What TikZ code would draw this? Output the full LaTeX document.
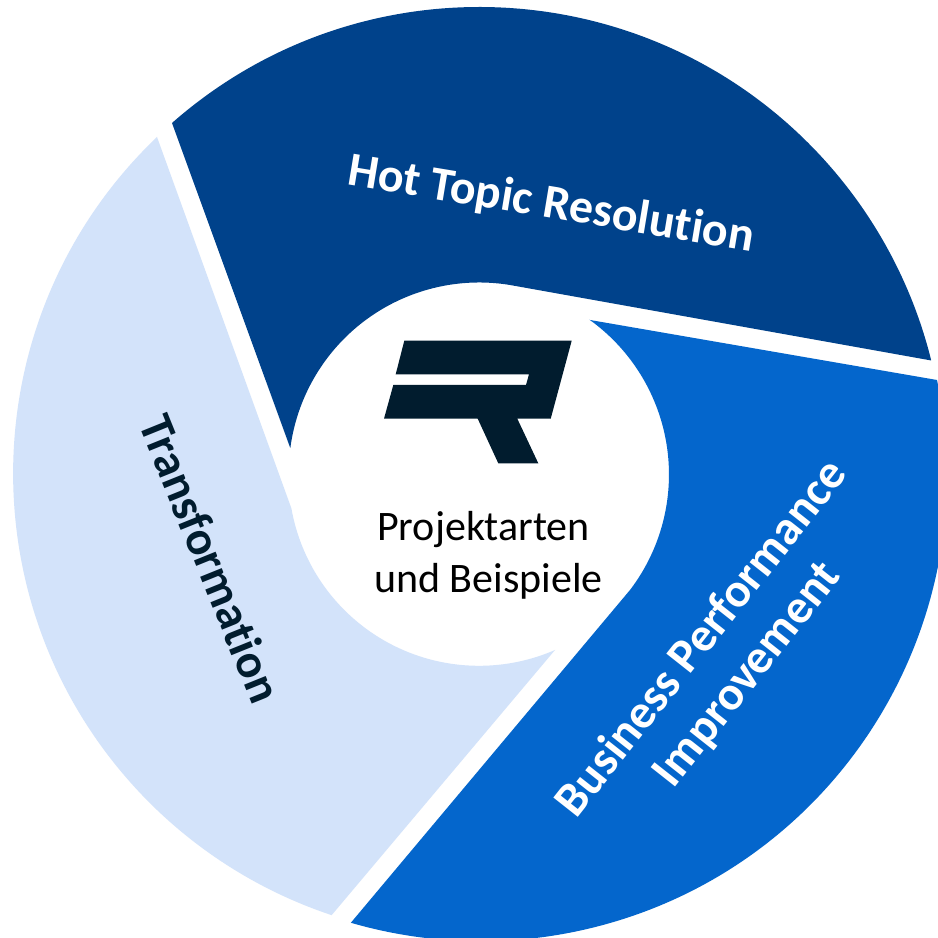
\documentclass[tikz,border=0pt]{standalone}
\usepackage{fontspec}
\setmainfont[Ligatures=NoCommon]{Carlito}
\definecolor{darkblue}{HTML}{00428B}
\definecolor{midblue}{HTML}{0466CC}
\definecolor{lightblue}{HTML}{D3E3FA}
\definecolor{logoink}{HTML}{011C2E}
\tikzset{
  x=0.75pt,y=0.75pt,
  seglabel/.style={font=\bfseries\fontsize{36}{43.5}\selectfont,align=center,inner sep=0pt,anchor=center},
  hublabel/.style={font=\fontsize{31.5}{39}\selectfont,align=center,inner sep=0pt,text=black}
}
\begin{document}
\begin{tikzpicture}
\useasboundingbox (0,0) rectangle (938,938);
\fill[white] (0,0) rectangle (938,938);
\clip (0,0) rectangle (938,938);
% Hot Topic Resolution
\fill[darkblue] (172,815) arc[start angle=131.34,end angle=13.92,radius=349.1pt]
  -- (510,653) arc[start angle=80.7,end angle=172.5,radius=142.9pt] -- cycle;
% Business Performance Improvement
\fill[midblue] (590,618) -- (937,558) arc[start angle=11.8,end angle=-106.2,radius=349.5pt]
  -- (630,348) arc[start angle=-37.3,end angle=54.4,radius=142.9pt] -- cycle;
% Transformation
\fill[lightblue] (157,801) arc[start angle=133.7,end angle=251.6,radius=349.1pt]
  -- (555,288) arc[start angle=-66.5,end angle=-170,radius=142.9pt] -- cycle;
% Logo
\fill[logoink] (404.3,597.3) -- (571.7,597.3) -- (550.7,519.3) -- (517.3,519.3) -- (538.3,474.7)
  -- (498.3,474.7) -- (477.7,519.3) -- (384,519.3) -- (393.3,553) -- (526,553) -- (529,563.7)
  -- (395.7,563.7) -- cycle;
\node[seglabel,text=white,rotate=-9.4] (hot) at (551,733) {Hot Topic Resolution};
\node[seglabel,text=logoink,rotate=-68] (trans) at (211,379) {Transformation};
\node[seglabel,text=white,rotate=51.7] (bpi) at (725,281) {Business Performance\\Improvement};
\node[hublabel] (hub) at (488.5,383) {Projektarten\kern7.5pt\\und Beispiele};
\end{tikzpicture}
\end{document}
